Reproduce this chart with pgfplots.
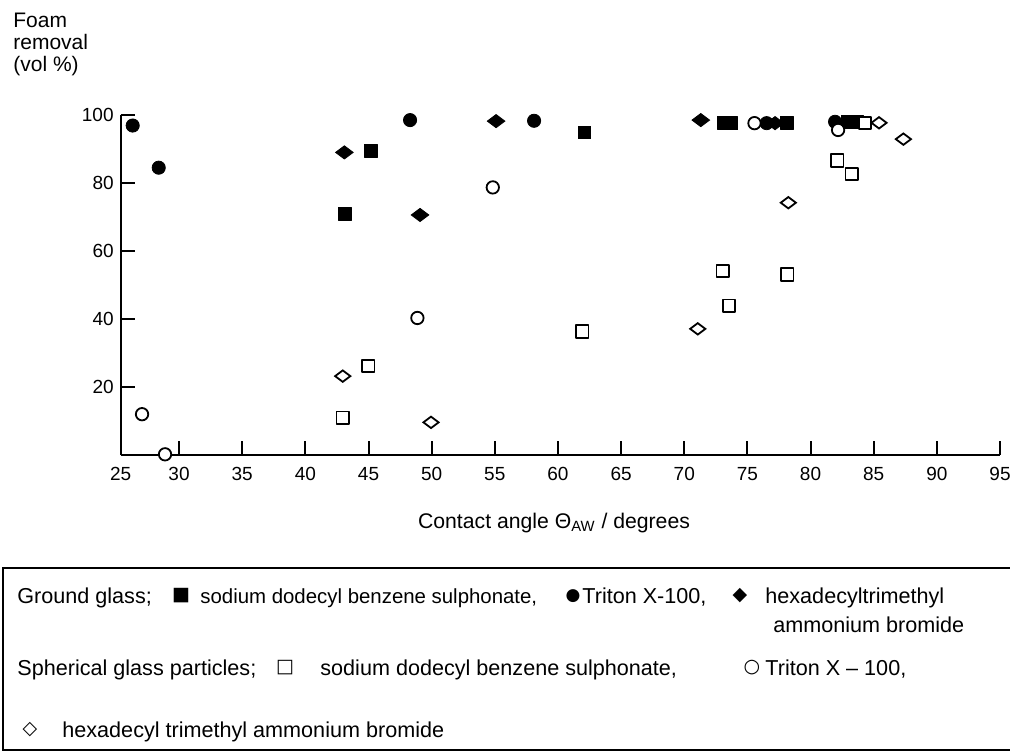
\documentclass[border=0pt]{standalone}
\usepackage{fontspec}
\setmainfont{Liberation Sans}
\newfontfamily\symfont{DejaVu Sans}
\usepackage{pgfplots}
\pgfplotsset{compat=1.18}
\newcommand\lfont{\fontsize{10.8}{12}\selectfont}
\newcommand\sfont{\symfont\fontsize{9.5}{11}\selectfont}
\begin{document}
\begin{tikzpicture}
\useasboundingbox (0,0) rectangle (505pt,377.5pt);
\begin{axis}[
  at={(60.35pt,150pt)}, anchor=south west,
  scale only axis, width=439.65pt, height=170pt,
  xmin=25.38, xmax=95, ymin=0, ymax=100,
  axis x line=bottom, axis y line=left,
  axis line style={-, line width=1pt},
  xtick={30,35,...,95},
  extra x ticks={25.38}, extra x tick labels={25},
  ytick={20,40,60,80,100},
  tick align=inside,
  major tick length=7pt,
  tick style={line width=1pt, black},
  ticklabel style={font=\fontsize{9.5}{11}\selectfont},
  xticklabel style={yshift=-2.5pt},
  /pgf/number format/assume math mode=true,
  clip=false,
  xlabel={Contact angle Θ\textsubscript{AW} / degrees},
  xlabel style={at={(axis description cs:0.4928,-0.2147)}, anchor=base, font=\fontsize{10.6}{12}\selectfont},
  ylabel={Foam\\removal\\(vol \%)},
  ylabel style={rotate=-90, at={(axis description cs:-0.1225,1.30)}, anchor=north west, align=left, font=\fontsize{10.5}{10.9}\selectfont, inner sep=0pt},
]
% Ground glass, SDBS (filled squares)
\addplot[only marks, mark=square*, mark size=3.2pt, black, mark options={line join=round}] coordinates {
 (43.14,70.9) (45.18,89.4) (62.09,94.9) (73.15,97.6) (73.71,97.6) (78.14,97.6) (82.97,97.9) (83.68,97.9)};
% Ground glass, Triton X-100 (filled circles)
\addplot[only marks, mark=*, mark size=3.3pt, black] coordinates {
 (26.33,96.9) (28.39,84.5) (48.29,98.5) (58.11,98.3) (76.52,97.6) (81.94,98.0)};
% Ground glass, CTAB (filled diamonds)
\addplot[only marks, mark=diamond*, mark size=4.4pt, black, mark options={rotate=90}] coordinates {
 (43.09,89.0) (49.08,70.6) (55.10,98.2) (71.31,98.5) (77.19,97.6)};
% Spherical, Triton X-100 (open circles)
\addplot[only marks, mark=*, mark size=3.1pt, mark options={draw=black, fill=white, line width=0.9pt}] coordinates {
 (27.07,12.0) (28.89,0.2) (48.87,40.3) (54.84,78.7) (75.56,97.6) (82.18,95.6)};
% Spherical, SDBS (open squares)
\addplot[only marks, mark=square*, mark size=3.1pt, mark options={draw=black, fill=white, line width=0.9pt, line join=round}] coordinates {
 (42.96,11.0) (44.99,26.2) (61.93,36.3) (73.05,54.1) (73.55,43.9) (78.16,53.1) (82.12,86.6) (83.26,82.6) (84.31,97.7)};
% Spherical, CTAB (open diamonds)
\addplot[only marks, mark=diamond*, mark size=3.8pt, mark options={rotate=90, draw=black, fill=white, line width=0.9pt}] coordinates {
 (42.96,23.2) (49.95,9.6) (71.07,37.1) (78.24,74.2) (85.42,97.7) (87.35,92.9)};
\end{axis}
% legend box
\draw[line width=1pt] (1.5pt,93.5pt) rectangle (507.5pt,2.5pt);
\node[anchor=base west, inner sep=0pt, font=\lfont] at (8.5pt,76pt) {Ground glass;};
\node[inner sep=0pt] at (90.5pt,79.5pt) {\sfont ■};
\node[anchor=base west, inner sep=0pt, font=\fontsize{10.2}{12}\selectfont] at (100pt,76pt) {sodium dodecyl benzene sulphonate,};
\node[inner sep=0pt] at (286.5pt,79.5pt) {\symfont\fontsize{8.5}{10}\selectfont ●};
\node[anchor=base west, inner sep=0pt, font=\lfont] at (291pt,76pt) {Triton X-100,};
\node[inner sep=0pt] at (370pt,79.5pt) {\sfont ◆};
\node[anchor=base west, inner sep=0pt, font=\lfont] at (382.5pt,76pt) {hexadecyltrimethyl};
\node[anchor=base west, inner sep=0pt, font=\lfont] at (386.5pt,61.5pt) {ammonium bromide};
\node[anchor=base west, inner sep=0pt, font=\lfont] at (8.5pt,40pt) {Spherical glass particles;};
\node[inner sep=0pt] at (142.5pt,43.5pt) {\sfont □};
\node[anchor=base west, inner sep=0pt, font=\lfont] at (160pt,40pt) {sodium dodecyl benzene sulphonate,};
\node[inner sep=0pt] at (376pt,43.5pt) {\sfont ○};
\node[anchor=base west, inner sep=0pt, font=\lfont] at (382.5pt,40pt) {Triton X – 100,};
\node[inner sep=0pt] at (15pt,12.5pt) {\sfont ◇};
\node[anchor=base west, inner sep=0pt, font=\lfont] at (31pt,9pt) {hexadecyl trimethyl ammonium bromide};
\end{tikzpicture}
\end{document}
